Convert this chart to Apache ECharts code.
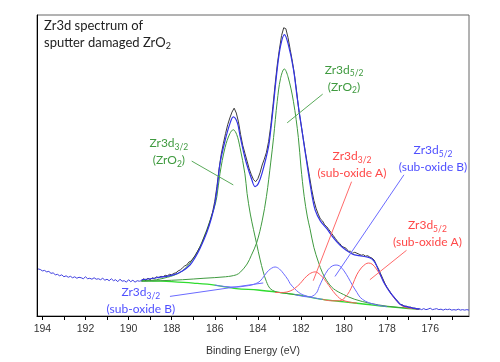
<!DOCTYPE html>
<html><head><meta charset="utf-8">
<script src="https://cdn.jsdelivr.net/npm/echarts@6/dist/echarts.min.js"></script>
<style>html,body{margin:0;padding:0;background:#fff}#c{width:500px;height:362px}</style>
</head><body><div id="c"></div>
<script>
// ---- data (binding energy in eV, intensity in arbitrary units) ----
const eStart = 194.2, eStep = 0.1;
const rawCounts = [
48,47.5,46,46.5,45,45.5,43.5,44,42,42.5,41,42,40,41,39.5,40.5,39,40,38.5,39.5,39,38,40,38,38.5,37.5,39,37.5,38,37,38.5,36.5,37.5,36,38,36,37,35,37.5,35.5,36,34.5,37,35,36.5,34.5,36,35.5,
36,38,36.5,38.5,37,39,38,40,39,40.5,40,41.5,41,42.5,42,43.5,44,46,47,49,51,52,55,56,59,62,66,70,74,80,85,91,98,106,117,132,150,165,176,186,
195,202,208,212,207,198,185,174,166,158,150,144,139,137,140,146,154,160,167,178,194,214,236,256,272,286,294,293,284,272,260,246,229,210,196,182,168,155,142,129,
118,110,104,99,97,93,91,88,85,82,79,76,74,71,70,69,66,66,64,65,64,63,62,62.5,61,61.5,60,59,57,52,48,43,38,33,29,26,22,20,17,15,12,11.5,10,10,9,9,8,8,7,
7.5,6.5,7.5,6.5,7,8,6.5,7,7.5,6.5,7,6,7,6.5,7,6,6.5,6,7,6,6.5,6,6.5,6
];
const fitStartIndex = 48, fitEndIndex = 176;
const envelope = [[189.4,37],[188.7,39],[187.92,42],[187.5,46],[187.15,52],[186.9,60],[186.68,69],[186.37,85],[186.15,100],[185.99,115],[185.85,138],[185.76,155],[185.52,179],[185.3,196],[185.14,203],[184.95,197],[184.83,184],[184.65,166],[184.52,155],[184.28,139],[184.13,132],[183.98,135],[183.8,146],[183.51,172],[183.4,190],[183.3,210],[183.1,252],[182.95,275],[182.77,287],[182.6,278],[182.35,252],[182.17,222],[181.95,189],[181.72,155],[181.48,122],[181.34,108],[181.1,97],[180.8,89],[180.5,80],[180.18,72],[179.9,67],[179.6,63],[179.3,61.5],[178.9,60],[178.7,58],[178.55,54],[178.33,43],[178.17,35],[178.01,29],[177.86,24],[177.6,17],[177.4,12],[177.1,9.5],[176.78,8],[176.5,7]];
const background = [[189.4,36],[188.5,35.5],[188,35],[187,33.5],[186,31.5],[185,28],[184,26.5],[183,24],[182,21],[181,17],[180,14.5],[179,12],[178,9.5],[177,7.5],[176.5,7]];
const zro2_52 = [[189.4,35.5],[188.5,36],[187.5,37],[186.5,38.5],[185.5,40],[185,42],[184.8,45],[184.5,53],[184.3,62],[184.05,75],[183.8,97],[183.6,122],[183.4,157],[183.27,182],[183.1,219],[182.95,242],[182.77,252],[182.6,244],[182.35,219],[182.12,182],[182.0,152],[181.85,122],[181.7,101],[181.58,89],[181.4,70],[181.19,55],[181,44],[180.8,36],[180.5,28],[180.03,22],[179.5,17],[178.8,13],[178,10],[177,8],[176.5,7]];
const zro2_32 = [[189.4,35.5],[188.7,37],[188.2,39.5],[187.9,41.5],[187.5,46],[187.15,54],[186.9,62],[186.68,71],[186.37,88],[186.15,102],[185.99,113],[185.9,122],[185.76,145],[185.52,172],[185.3,186],[185.14,190],[184.98,185],[184.83,172],[184.6,145],[184.5,125],[184.35,104],[184.2,88],[184.05,73],[183.9,58],[183.75,45],[183.6,35],[183.43,28],[183.2,25],[183,24],[182.5,22.5],[182,21]];
const subB_32 = [[186,31.5],[185.5,30],[185,29.5],[184.6,30.5],[184.3,31.5],[184.1,33],[183.9,35.5],[183.7,41],[183.5,46.5],[183.2,50],[183.0,48],[182.8,43],[182.6,37],[182.5,33],[182.3,28],[182.1,24],[181.9,21.5],[181.5,19],[181,17]];
const subB_52 = [[182.3,22],[181.9,20],[181.6,19.5],[181.3,23],[181.15,30],[180.96,39],[180.75,47],[180.55,51],[180.37,52],[180.2,51],[180.0,46],[179.8,39],[179.6,31],[179.4,24],[179.25,19],[179,15],[178.7,12.5],[178.3,10.5],[178,9.5]];
const subA_32 = [[183.2,24],[182.8,24],[182.5,25.5],[182.3,28],[182.04,33],[181.85,38],[181.6,43],[181.34,45],[181.1,42],[180.9,37],[180.7,31],[180.5,25],[180.3,20],[180.1,16.5],[179.8,14.5],[179.4,13]];
const subA_52 = [[181,17],[180.6,15.5],[180.2,15.5],[179.95,19],[179.75,25],[179.6,32],[179.41,42],[179.2,49],[179.0,53],[178.87,54],[178.7,53],[178.5,48],[178.33,42],[178.15,35],[178.01,29],[177.85,24],[177.7,19],[177.5,14],[177.32,10.5],[177.1,8.5],[176.8,7.5],[176.5,7]];
const xLabelValues = [194,192,190,188,186,184,182,180,178,176];
const xTickValues = [194,193,192,191,190,189,188,187,186,185,184,183,182,181,180,179,178,177,176,175];
const titleText = 'Zr3d spectrum of\nsputter damaged ZrO{s|2}';
const annotations = [
  {text:'Zr3d{s|5/2}\n(ZrO{s|2})', color:'#3f9a3f', line:'#5aaa5a', at:[180.0,242.5], from:[180.99,226.3], to:[182.64,197]},
  {text:'Zr3d{s|3/2}\n(ZrO{s|2})', color:'#3f9a3f', line:'#5aaa5a', at:[188.13,167.5], from:[187.07,158], to:[185.14,133.7]},
  {text:'Zr3d{s|3/2}\n(sub-oxide A)', color:'#ff4848', line:'#ff6a6a', at:[179.63,154], from:[179.65,137], to:[181.43,36]},
  {text:'Zr3d{s|5/2}\n(sub-oxide B)', color:'#5050ff', line:'#6a6aff', at:[175.87,160.5], from:[177.22,144], to:[180.42,40.3]},
  {text:'Zr3d{s|5/2}\n(sub-oxide A)', color:'#ff4848', line:'#ff6a6a', at:[176.13,84], from:[177.1,67], to:[178.8,37]},
  {text:'Zr3d{s|3/2}\n(sub-oxide B)', color:'#5050ff', line:'#6a6aff', at:[189.43,15.5], from:[188.08,20], to:[183.75,33.7]}
];

// ---- chart ----
const rawPairs = rawCounts.map((v, i) => [+(eStart - i * eStep).toFixed(2), v]);
const leftOuter = rawPairs.slice(0, fitStartIndex + 1);
const rightOuter = rawPairs.slice(fitEndIndex);
const fitRaw = rawPairs.slice(fitStartIndex, fitEndIndex + 1);

const chart = echarts.init(document.getElementById('c'), null, {renderer: 'canvas'});
function comp(data, color, width, z) {
  return {type:'line', data, showSymbol:false, symbol:'none', smooth:0.35, lineStyle:{color, width:width||1}, z:z||2, silent:true, animation:false};
}
chart.setOption({
  animation:false,
  grid:{left:37, right:31, top:15, bottom:40, show:true, borderColor:'#666', borderWidth:1},
  xAxis:{type:'value', inverse:true, min:174.2, max:194.25,
    axisLine:{show:true, lineStyle:{color:'#000', width:1}},
    axisTick:{show:true, inside:false, length:4, customValues:xTickValues, lineStyle:{color:'#000'}},
    axisLabel:{customValues:xLabelValues, color:'#333', fontSize:10.5, fontFamily:'Liberation Sans', margin:8},
    splitLine:{show:false},
    name:'Binding Energy (eV)', nameLocation:'middle', nameGap:30,
    nameTextStyle:{color:'#333', fontSize:10.5, fontFamily:'Liberation Sans'}},
  yAxis:{type:'value', min:0, max:307, axisLine:{show:true, lineStyle:{color:'#000'}}, axisTick:{show:false}, axisLabel:{show:false}, splitLine:{show:false}},
  series:[
    comp(background, '#2fdc2f', 1.3, 2),
    comp(zro2_52, '#3f9a3f', 1, 3),
    comp(zro2_32, '#3f9a3f', 1, 3),
    comp(subB_32, '#6a6aff', 1, 3),
    comp(subB_52, '#6a6aff', 1, 3),
    comp(subA_32, '#ff5a5a', 1, 3),
    comp(subA_52, '#ff5a5a', 1, 3),
    {type:'line', data:fitRaw, showSymbol:false, symbol:'none', lineStyle:{color:'#3c3c3c', width:1}, z:4, silent:true},
    {type:'line', data:leftOuter, showSymbol:false, symbol:'none', lineStyle:{color:'#4040e0', width:1}, z:5, silent:true},
    {type:'line', data:rightOuter, showSymbol:false, symbol:'none', lineStyle:{color:'#4040e0', width:1}, z:5, silent:true},
    comp(envelope, '#3333e8', 1.2, 5)
  ]
});

function px(p) { return chart.convertToPixel({xAxisIndex:0, yAxisIndex:0}, p); }
const graphics = [];
graphics.push({type:'text', z:10, style:{text:titleText, x:44, y:17, textAlign:'left', textVerticalAlign:'top',
  font:'13px Lato', fill:'#222', lineHeight:17,
  rich:{s:{fontSize:9, fontFamily:'Lato', fill:'#222', verticalAlign:'bottom', lineHeight:17}}}});
annotations.forEach(a => {
  const t = px(a.at), f = px(a.from), e = px(a.to);
  graphics.push({type:'line', z:9, shape:{x1:f[0], y1:f[1], x2:e[0], y2:e[1]}, style:{stroke:a.line, lineWidth:1}});
  graphics.push({type:'text', z:10, style:{text:a.text, x:t[0], y:t[1], textAlign:'center', textVerticalAlign:'middle',
    font:'12px Lato', fill:a.color, lineHeight:17,
    rich:{s:{fontSize:8.5, fontFamily:'Lato', fill:a.color, verticalAlign:'bottom', lineHeight:17}}}});
});
chart.setOption({graphic:graphics});
</script></body></html>
